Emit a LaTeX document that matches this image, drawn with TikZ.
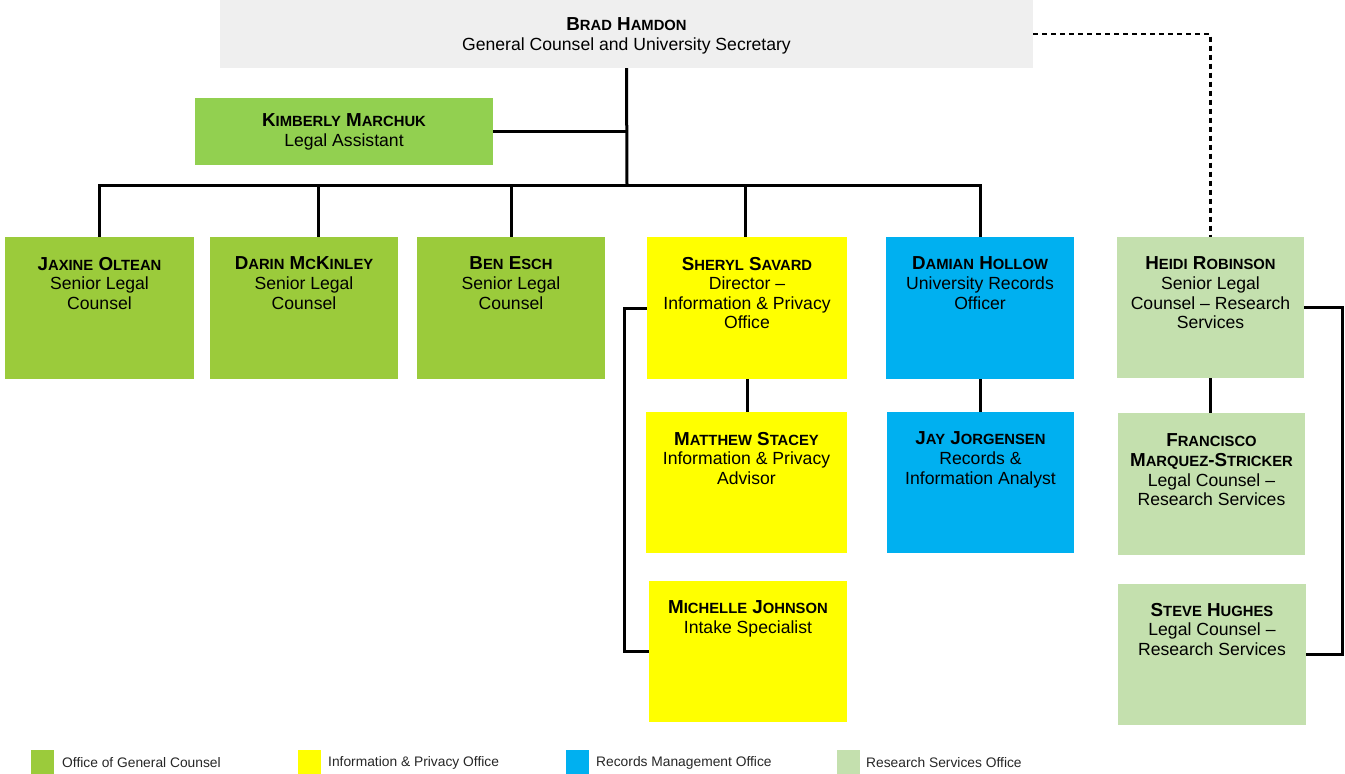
\documentclass[tikz,border=0pt]{standalone}
\usepackage{fontspec}
\setmainfont{Liberation Sans}
\definecolor{topgray}{HTML}{EFEFEF}
\definecolor{ogc}{HTML}{9BCB3B}
\definecolor{ogcl}{HTML}{92D050}
\definecolor{ipo}{HTML}{FFFF00}
\definecolor{rmo}{HTML}{00B0F0}
\definecolor{rso}{HTML}{C4E0AE}
\newcommand\smc[1]{{\fontsize{14.8}{19.5}\selectfont #1}}
\newcommand\nm[1]{{\bfseries\fontsize{18.8}{19.5}\selectfont #1}}
\tikzset{
  box/.style={rectangle, draw=none, inner sep=0pt},
  txt/.style={anchor=north, inner sep=0pt, align=center, font=\fontsize{17.6}{19.6}\selectfont},
  conn/.style={line width=3pt, black},
  dashedline/.style={line width=2.4pt, black, dash pattern=on 5pt off 4pt},
  legbox/.style={rectangle, draw=none, inner sep=0pt, minimum width=23pt, minimum height=24pt},
  legtxt/.style={anchor=west, inner sep=0pt, font=\fontsize{13.8}{15}\selectfont, text=black!85}
}
\begin{document}
\begin{tikzpicture}[x=1pt,y=-1pt]
\useasboundingbox (0,0) rectangle (1345,774);
% boxes
\node[box, fill=topgray, minimum width=813pt, minimum height=68pt] (b) at (626.5,34) {};
\node[box, fill=ogcl, minimum width=298pt, minimum height=67pt] (k) at (344,131.5) {};
\node[box, fill=ogc, minimum width=189pt, minimum height=142pt] (j) at (99.5,308) {};
\node[box, fill=ogc, minimum width=188pt, minimum height=142pt] (d) at (304,308) {};
\node[box, fill=ogc, minimum width=188pt, minimum height=142pt] (be) at (511,308) {};
\node[box, fill=ipo, minimum width=200pt, minimum height=142pt] (s) at (747,308) {};
\node[box, fill=rmo, minimum width=188pt, minimum height=142pt] (dh) at (980,308) {};
\node[box, fill=rso, minimum width=187pt, minimum height=141pt] (h) at (1210.5,307.5) {};
\node[box, fill=ipo, minimum width=201pt, minimum height=141pt] (m) at (746.5,482.5) {};
\node[box, fill=rmo, minimum width=187pt, minimum height=141pt] (jy) at (980.5,482.5) {};
\node[box, fill=rso, minimum width=187pt, minimum height=142pt] (f) at (1211.5,484) {};
\node[box, fill=ipo, minimum width=198pt, minimum height=141pt] (mj) at (748,651.5) {};
\node[box, fill=rso, minimum width=188pt, minimum height=141pt] (st) at (1212,654.5) {};
% texts
\node[txt] (bt) at ([yshift=-18pt]b.north) {\nm{B\smc{RAD} H\smc{AMDON}}\\General Counsel and University Secretary};
\node[txt] (kt) at ([yshift=-16pt]k.north) {\nm{K\smc{IMBERLY} M\smc{ARCHUK}}\\Legal Assistant};
\node[txt] (jt) at ([yshift=-20pt]j.north) {\nm{J\smc{AXINE} O\smc{LTEAN}}\\Senior Legal\\Counsel};
\node[txt] (dt) at ([yshift=-20pt]d.north) {\nm{D\smc{ARIN} M\smc{C}K\smc{INLEY}}\\Senior Legal\\Counsel};
\node[txt] (bet) at ([yshift=-20pt]be.north) {\nm{B\smc{EN} E\smc{SCH}}\\Senior Legal\\Counsel};
\node[txt] (stt) at ([yshift=-20pt]s.north) {\nm{S\smc{HERYL} S\smc{AVARD}}\\Director --\\Information \& Privacy\\Office};
\node[txt] (dht) at ([yshift=-20pt]dh.north) {\nm{D\smc{AMIAN} H\smc{OLLOW}}\\University Records\\Officer};
\node[txt] (ht) at ([yshift=-20pt]h.north) {\nm{H\smc{EIDI} R\smc{OBINSON}}\\Senior Legal\\Counsel -- Research\\Services};
\node[txt] (mt) at ([yshift=-20pt]m.north) {\nm{M\smc{ATTHEW} S\smc{TACEY}}\\Information \& Privacy\\Advisor};
\node[txt] (jyt) at ([yshift=-20pt]jy.north) {\nm{J\smc{AY} J\smc{ORGENSEN}}\\Records \&\\Information Analyst};
\node[txt] (ft) at ([yshift=-21pt]f.north) {\nm{F\smc{RANCISCO}}\\\nm{M\smc{ARQUEZ}-S\smc{TRICKER}}\\Legal Counsel --\\Research Services};
\node[txt] (mjt) at ([yshift=-20pt]mj.north) {\nm{M\smc{ICHELLE} J\smc{OHNSON}}\\Intake Specialist};
\node[txt] (stt2) at ([yshift=-19pt]st.north) {\nm{S\smc{TEVE} H\smc{UGHES}}\\Legal Counsel --\\Research Services};
% connectors
\coordinate (hub) at (627,185);
\draw[conn] (b.south) -- (hub);
\draw[conn] (k.east) -- (k.east -| hub);
\draw[conn] (j.north) -- (j.north |- hub) -- (dh.north |- hub) -- (dh.north);
\draw[conn] ([xshift=14pt]d.north) -- ([xshift=14pt]d.north |- hub);
\draw[conn] (be.north) -- (be.north |- hub);
\draw[conn] ([xshift=-2pt]s.north) -- ([xshift=-2pt]s.north |- hub);
\draw[dashedline] (b.east) -| (h.north);
\draw[conn] (s.south) -- (s.south |- m.north);
\draw[conn] (dh.south) -- (dh.south |- jy.north);
\draw[conn] (h.south) -- (h.south |- f.north);
\draw[conn] (s.west) -- ++(-22,0) |- (mj.west);
\draw[conn] (h.east) -- ++(38,0) |- (st.east);
% legend
\node[legbox, fill=ogc] (l1) at (42.5,762) {};
\node[legtxt] (l1t) at (62,763) {Office of General Counsel};
\node[legbox, fill=ipo] (l2) at (309,762) {};
\node[legtxt] (l2t) at (328,763) {Information \& Privacy Office};
\node[legbox, fill=rmo] (l3) at (577,762) {};
\node[legtxt] (l3t) at (596,763) {Records Management Office};
\node[legbox, fill=rso] (l4) at (848,762) {};
\node[legtxt] (l4t) at (866,763) {Research Services Office};
\end{tikzpicture}
\end{document}
